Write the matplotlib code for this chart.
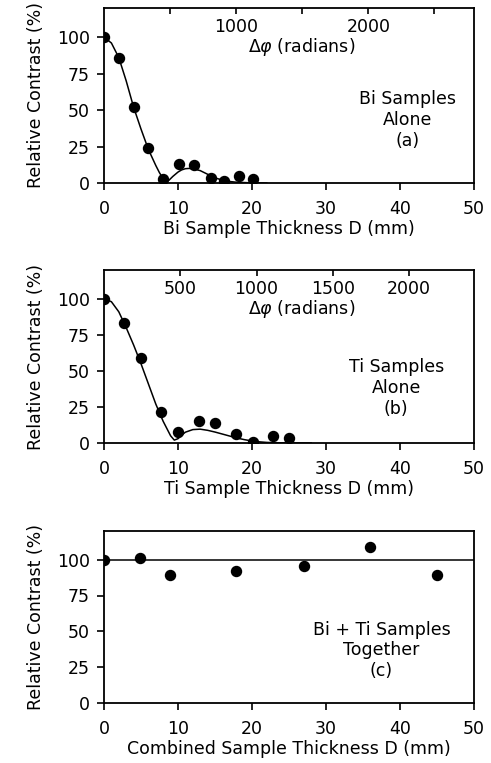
import matplotlib
matplotlib.use("Agg")
import matplotlib.pyplot as plt

# --- data -----------------------------------------------------------------
# (a) Bi samples alone
bi_d = [0, 2.0, 4.05, 6.0, 7.95, 10.1, 12.2, 14.4, 16.2, 18.3, 20.1]
bi_c = [100, 85.7, 52, 23.7, 3, 13.3, 12.6, 3.4, 1.4, 4.8, 3]
bi_fit_d = [0, 1, 2, 3, 4, 5, 6, 7, 7.5, 8, 8.4, 8.8, 9.3, 10, 10.5, 11,
            11.5, 12, 13, 14, 15, 16, 17, 18, 19, 20, 22]
bi_fit_c = [100, 96, 86, 70, 52, 37, 23, 12, 7, 3, 0.5, 2, 4.5, 7.5, 9, 9.8,
            10, 9.8, 8.5, 6, 3.5, 2, 1, 0.5, 0.3, 0.1, 0]
bi_rad_ticks = [500, 1000, 1500, 2000, 2500]
bi_rad_labels = ["", "1000", "", "2000", ""]
bi_rad_per_mm = 56.0

# (b) Ti samples alone
ti_d = [0, 2.7, 5.0, 7.7, 10.0, 12.8, 15.0, 17.8, 20.1, 22.9, 25.0]
ti_c = [100, 83.4, 58.9, 21.5, 7.6, 15, 14, 6, 0.7, 4.8, 3.5]
ti_fit_d = [0, 1, 2, 3, 4, 5, 6, 7, 8, 8.5, 9, 9.5, 10, 10.5, 11, 12, 13,
            14, 15, 16, 17, 18, 19, 20, 21, 22, 24, 26, 28]
ti_fit_c = [100, 98, 91, 80, 68, 55, 41, 27, 15, 10, 5, 2, 3, 5.5, 7.5, 9.3,
            9.6, 8.8, 7.6, 6.2, 4.8, 3.4, 2.3, 1.4, 0.8, 0.4, 0.1, 0, 0]
ti_rad_ticks = [500, 1000, 1500, 2000]
ti_rad_labels = ["500", "1000", "1500", "2000"]
ti_rad_per_mm = 48.5

# (c) Bi + Ti together
both_d = [0, 4.93, 8.97, 17.9, 27.0, 36.0, 45.0]
both_c = [100, 100.9, 89.6, 91.9, 95.6, 108.6, 89.6]
ref_d = [0, 50]
ref_c = [100, 100]

y_ticks = [0, 25, 50, 75, 100]
x_ticks = [0, 10, 20, 30, 40, 50]

FS = 12.5
plt.rcParams['font.family'] = ['DejaVu Sans']
plt.rcParams['font.size'] = FS
plt.rcParams['mathtext.fontset'] = 'dejavusans'

fig = plt.figure(figsize=(4.91, 7.63), dpi=100)

W = 491.0
H = 763.0
left = 104 / W
width = 370 / W


def make_axes(top_px, bottom_px):
    ax = fig.add_axes([left, 1 - bottom_px / H, width, (bottom_px - top_px) / H])
    ax.set_xlim(0, 50)
    ax.set_ylim(0, 120)
    ax.set_xticks(x_ticks)
    ax.set_yticks(y_ticks)
    for s in ax.spines.values():
        s.set_linewidth(1.3)
    ax.tick_params(axis='both', direction='out', length=5, width=1.2,
                   labelsize=FS)
    ax.tick_params(axis='x', pad=7)
    ax.tick_params(axis='y', pad=5)
    ax.set_ylabel("Relative Contrast (%)", labelpad=9)
    return ax


def add_phase_axis(ax, rad_per_mm, ticks, labels):
    sec = ax.secondary_xaxis('top', functions=(lambda d: d * rad_per_mm,
                                               lambda r: r / rad_per_mm))
    sec.set_xticks(ticks)
    sec.set_xticklabels(labels)
    sec.tick_params(direction='in', length=4, width=1.2, pad=-20,
                    labelsize=FS)
    sec.spines['top'].set_visible(False)
    ax.text(0.535, 0.775, r"$\Delta\varphi$ (radians)", transform=ax.transAxes,
            ha='center', va='center', fontsize=FS)


# (a)
ax1 = make_axes(8, 183)
ax1.plot(bi_fit_d, bi_fit_c, color='black', lw=1.1)
ax1.plot(bi_d, bi_c, 'o', color='black', ms=7.2)
ax1.set_xlabel("Bi Sample Thickness D (mm)", labelpad=2)
add_phase_axis(ax1, bi_rad_per_mm, bi_rad_ticks, bi_rad_labels)
ax1.text(41, 43, "Bi Samples\nAlone\n(a)", ha='center', va='center',
         linespacing=1.2)

# (b)
ax2 = make_axes(270, 443)
ax2.plot(ti_fit_d, ti_fit_c, color='black', lw=1.1)
ax2.plot(ti_d, ti_c, 'o', color='black', ms=7.2)
ax2.set_xlabel("Ti Sample Thickness D (mm)", labelpad=2)
add_phase_axis(ax2, ti_rad_per_mm, ti_rad_ticks, ti_rad_labels)
ax2.text(39.5, 38, "Ti Samples\nAlone\n(b)", ha='center', va='center',
         linespacing=1.2)

# (c)
ax3 = make_axes(531, 703)
ax3.plot(ref_d, ref_c, color='black', lw=1.1)
ax3.plot(both_d, both_c, 'o', color='black', ms=7.2)
ax3.set_xlabel("Combined Sample Thickness D (mm)", labelpad=2)
ax3.text(37.5, 36.7, "Bi + Ti Samples\nTogether\n(c)", ha='center',
         va='center', linespacing=1.2)

fig.savefig("out.png", dpi=100)
